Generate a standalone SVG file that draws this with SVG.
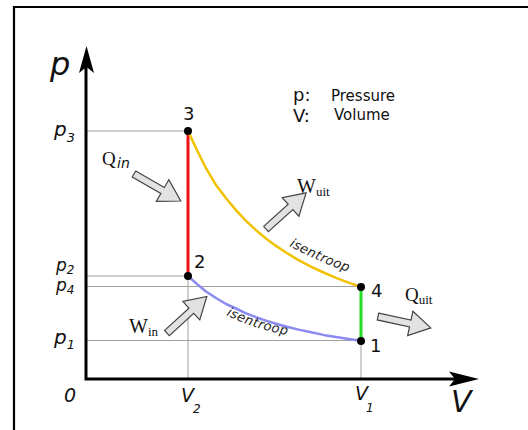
<svg xmlns="http://www.w3.org/2000/svg" width="528" height="430" viewBox="0 0 528 430">
<style>
.ax{font-family:"DejaVu Sans",sans-serif;font-style:italic;fill:#111}
.num{font-family:"DejaVu Sans",sans-serif;font-size:18px;fill:#111}
.leg{font-family:"DejaVu Sans",sans-serif;fill:#111}
.ser{font-family:"Liberation Serif",serif;fill:#111}
.grid{stroke:#a0a0a0;stroke-width:1;fill:none}
.blk{fill:#e2e2e2;stroke:#444;stroke-width:1.2;stroke-linejoin:miter}
.dot{fill:#000}
.lbl{font-family:"DejaVu Sans",sans-serif;font-style:italic;font-size:13px;fill:#222}
</style>
<defs>
<path id="barrow" d="M0,-3.5 L33,-3.5 L33,-12.5 L54,0 L33,12.5 L33,3.5 L0,3.5 Z"/>
<path id="isoU" d="M289,246 Q321,263 359,276"/>
<path id="isoL" d="M226,315 Q258,331 298,337"/>
</defs>
<rect width="528" height="430" fill="#fff"/>
<path d="M14,430 V7 H528" fill="none" stroke="#000" stroke-width="2.2"/>

<g id="gridlines">
<path class="grid" d="M86,131 H188"/>
<path class="grid" d="M86,276 H188"/>
<path class="grid" d="M86,286.5 H361" stroke="#c4c4c4"/>
<path class="grid" d="M86,340.5 H361"/>
<path class="grid" d="M188,276 V379"/>
<path class="grid" d="M361,341 V379"/>
</g>

<g id="axes">
<path d="M86,62 V379 H466" fill="none" stroke="#000" stroke-width="3" stroke-linejoin="miter"/>
<polygon points="86.5,46 94,73 86.5,67 79,73" fill="#000"/>
<polygon points="479,379 449,371.5 455,379 449,386.5" fill="#000"/>
<text class="ax" x="50" y="75" font-size="32">p</text>
<text class="ax" x="451" y="412" font-size="30">V</text>
<text class="ax" x="64" y="402" font-size="19">0</text>
<text class="ax" x="54" y="136" font-size="20">p<tspan font-size="13" dy="6">3</tspan></text>
<text class="ax" x="56" y="271" font-size="17">p<tspan font-size="12" dy="3">2</tspan></text>
<text class="ax" x="56" y="291" font-size="17">p<tspan font-size="12" dy="3">4</tspan></text>
<text class="ax" x="54" y="344" font-size="20">p<tspan font-size="13" dy="5">1</tspan></text>
<text class="ax" x="181" y="402" font-size="19">V</text>
<text class="ax" x="193" y="413" font-size="12">2</text>
<text class="ax" x="355" y="400" font-size="19">V</text>
<text class="ax" x="366" y="412" font-size="12">1</text>
</g>

<g id="connectors">
<path id="c23" d="M188,131 V276" stroke="#ee1111" stroke-width="3" fill="none"/>
<path id="c41" d="M361,287 V341" stroke="#22dd22" stroke-width="3" fill="none"/>
<polyline id="c34" points="188,131 197,150.2 206,168.2 216,185.1 226,198.3 236,210.1 246,220.9 256,230.2 266,238.5 276,245.9 286,252.5 298.5,260.1 311,266.6 323.5,272.5 336,277.8 348.5,282.6 361,287" fill="none" stroke="#f2c200" stroke-width="2.5" stroke-linejoin="round"/>
<polyline id="c21" points="188,276 197,284.1 206,291.5 216,298 226,304 236,308.5 246,313.3 256,317.2 266,320.6 276,323.7 286,326.5 298.5,329.6 311,332.3 323.5,334.9 336,337 348.5,339 361,340.8" fill="none" stroke="#8a8af0" stroke-width="2.5" stroke-linejoin="round"/>
<text class="lbl" font-size="13.5" letter-spacing="0.4"><textPath href="#isoU">isentroop</textPath></text>
<text class="lbl" font-size="13.5" letter-spacing="0.4"><textPath href="#isoL">isentroop</textPath></text>
</g>

<g id="node3"><circle class="dot" cx="188" cy="131" r="4"/><text class="num" x="183" y="120">3</text></g>
<g id="node2"><circle class="dot" cx="188" cy="276" r="4"/><text class="num" x="194" y="268">2</text></g>
<g id="node4"><circle class="dot" cx="361" cy="287" r="4"/><text class="num" x="371" y="297">4</text></g>
<g id="node1"><circle class="dot" cx="361" cy="341" r="4"/><text class="num" x="370" y="352">1</text></g>

<g id="legend">
<text class="leg" x="293" y="101" font-size="18">p:</text>
<text class="leg" x="293" y="122" font-size="18">V:</text>
<text class="leg" x="331" y="101" font-size="15">Pressure</text>
<text class="leg" x="334" y="120" font-size="15">Volume</text>
</g>

<g id="Qin">
<use href="#barrow" class="blk" transform="translate(134,174) rotate(30)"/>
<text class="ser" x="102" y="165" font-size="19">Q</text>
<text class="ax" x="117" y="168" font-size="14">in</text>
</g>
<g id="Win">
<use href="#barrow" class="blk" transform="translate(167,333) rotate(-42.5)"/>
<text class="ser" x="129" y="333" font-size="20">W<tspan font-size="13" dy="3">in</tspan></text>
</g>
<g id="Wuit">
<use href="#barrow" class="blk" transform="translate(266,229) rotate(-42)"/>
<text class="ser" x="297" y="193" font-size="20">W<tspan font-size="13" dy="3">uit</tspan></text>
</g>
<g id="Quit">
<use href="#barrow" class="blk" transform="translate(378,316.5) rotate(12.2)"/>
<text class="ser" x="405" y="301" font-size="19">Q<tspan font-size="13" dy="3">uit</tspan></text>
</g>
</svg>
